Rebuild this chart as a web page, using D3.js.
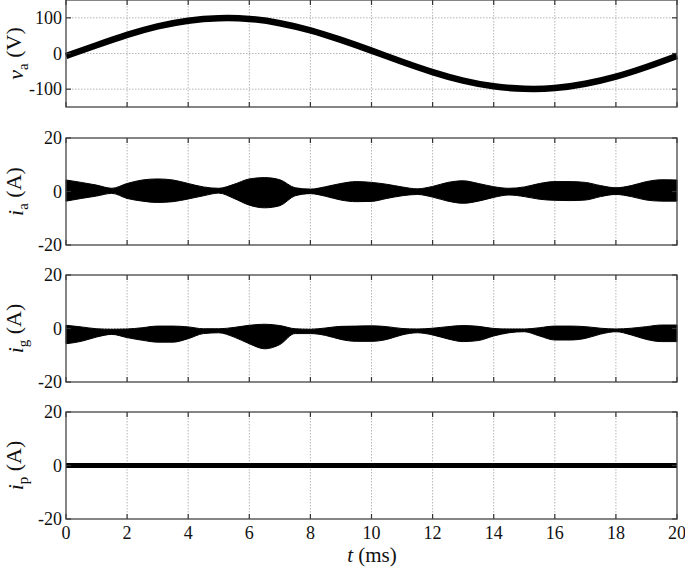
<!DOCTYPE html>
<html>
<head>
<meta charset="utf-8">
<script src="https://cdn.jsdelivr.net/npm/d3@7"></script>
<style>
  html, body { margin: 0; padding: 0; background: #fff; }
  svg { display: block; }
</style>
</head>
<body>
<svg id="chart" width="685" height="570" font-family="Liberation Serif"></svg>
<script>
// ---------- data ----------
const xTicks = [0, 2, 4, 6, 8, 10, 12, 14, 16, 18, 20];           // t (ms)
const vaTicks = [-100, 0, 100];
const iTicks = [-20, 0, 20];

// va (V), sampled every 1 ms
const tVa = [0,1,2,3,4,5,6,7,8,9,10,11,12,13,14,15,16,17,18,19,20];
const va  = [-7,23,52,76,92,99,97,85,65,38,8,-23,-52,-76,-92,-99,-97,-85,-65,-38,-7];

// envelope sample times (ms), every 0.5 ms
const tEnv = [0,0.5,1,1.5,2,2.5,3,3.5,4,4.5,5,5.5,6,6.5,7,7.5,8,8.5,9,9.5,10,
              10.5,11,11.5,12,12.5,13,13.5,14,14.5,15,15.5,16,16.5,17,17.5,18,18.5,19,19.5,20];

// ia (A) ripple envelope
const iaUpper = [4.3,3.4,2.4,1.2,3.0,4.3,4.7,4.3,3.0,1.7,1.2,2.7,4.7,5.2,4.4,1.4,0.9,1.8,3.0,3.7,3.4,
                 2.7,1.7,1.0,1.9,3.4,4.0,3.0,1.8,1.2,1.7,3.0,3.7,3.7,3.4,2.2,1.4,2.2,3.7,4.4,4.3];
const iaLower = [-3.6,-2.6,-1.7,-0.7,-2.6,-3.6,-4.1,-3.8,-2.8,-1.6,-0.6,-2.6,-5.1,-6.1,-5.3,-1.6,-0.8,-1.8,-3.2,-3.8,-3.7,
                 -2.6,-1.6,-1.1,-2.1,-3.6,-4.4,-3.6,-2.2,-1.3,-1.9,-2.9,-3.3,-3.4,-3.2,-1.9,-1.1,-1.9,-3.2,-3.6,-3.6];

// ig (A) ripple envelope
const igUpper = [1.2,0.6,-0.1,-0.3,-0.2,0.3,0.9,0.9,0.6,-0.1,-0.1,0.4,1.2,1.6,1.1,-0.1,-0.3,0.2,0.8,0.9,1.0,
                 0.7,0.0,-0.2,0.1,0.7,1.1,0.8,0.0,-0.2,-0.2,0.3,0.9,0.9,0.7,0.1,-0.2,0.1,0.7,1.3,1.3];
const igLower = [-5.7,-4.8,-3.2,-2.2,-3.4,-4.4,-5.1,-5.1,-3.8,-1.9,-1.6,-3.2,-5.7,-7.6,-6.0,-1.9,-1.9,-2.6,-4.1,-4.8,-4.8,
                 -4.1,-2.4,-1.6,-2.4,-3.9,-4.9,-4.5,-2.8,-1.6,-1.2,-2.8,-4.3,-4.3,-3.7,-2.1,-1.2,-2.4,-4.1,-4.9,-4.9];

// ip (A)
const tIp = [0, 5, 10, 15, 20];
const ip  = [0, 0, 0, 0, 0];

// ---------- layout ----------
const FONT = "Liberation Serif";
const svg = d3.select("#chart");
const left = 66, right = 677;
const panelH = 107;
const panelTops = [0, 138, 275, 412];

const x = d3.scaleLinear().domain([0, 20]).range([left, right]);

function panel(top, domain, yticks, label) {
  const y = d3.scaleLinear().domain(domain).range([top + panelH, top]);
  const g = svg.append("g");
  g.selectAll(".vg").data(xTicks.slice(1, -1)).join("line")
    .attr("x1", d => x(d)).attr("x2", d => x(d))
    .attr("y1", top).attr("y2", top + panelH)
    .attr("stroke", "#b5b5b5").attr("stroke-width", 1)
    .attr("stroke-dasharray", "1.5,1.5");
  g.selectAll(".hg").data(yticks.filter(d => d > domain[0] && d < domain[1])).join("line")
    .attr("x1", left).attr("x2", right)
    .attr("y1", d => y(d)).attr("y2", d => y(d))
    .attr("stroke", "#b5b5b5").attr("stroke-width", 1)
    .attr("stroke-dasharray", "1.5,1.5");
  return { g, y, top, domain, yticks, label };
}

function frame(p) {
  const { g, y, top, yticks } = p;
  const tickLen = 5;
  g.selectAll(".tb").data(xTicks).join("line")
    .attr("x1", d => x(d)).attr("x2", d => x(d))
    .attr("y1", top + panelH).attr("y2", top + panelH - tickLen)
    .attr("stroke", "#333").attr("stroke-width", 1.2);
  g.selectAll(".tt").data(xTicks).join("line")
    .attr("x1", d => x(d)).attr("x2", d => x(d))
    .attr("y1", top).attr("y2", top + tickLen)
    .attr("stroke", "#333").attr("stroke-width", 1.2);
  g.selectAll(".tl").data(yticks).join("line")
    .attr("x1", left).attr("x2", left + tickLen)
    .attr("y1", d => y(d)).attr("y2", d => y(d))
    .attr("stroke", "#333").attr("stroke-width", 1.2);
  g.selectAll(".tr").data(yticks).join("line")
    .attr("x1", right).attr("x2", right - tickLen)
    .attr("y1", d => y(d)).attr("y2", d => y(d))
    .attr("stroke", "#333").attr("stroke-width", 1.2);
  g.append("rect").attr("x", left).attr("y", top)
    .attr("width", right - left).attr("height", panelH)
    .attr("fill", "none").attr("stroke", "#444").attr("stroke-width", 1.3);
  g.selectAll(".yl").data(yticks).join("text")
    .attr("x", left - 4).attr("y", d => y(d)).attr("dy", "0.35em")
    .attr("text-anchor", "end").attr("font-size", 18)
    .attr("font-family", FONT).attr("fill", "#111")
    .text(d => d);
  const cy = top + panelH / 2;
  const t = g.append("text")
    .attr("transform", `translate(23,${cy}) rotate(-90)`)
    .attr("text-anchor", "middle").attr("font-size", 22)
    .attr("font-family", FONT).attr("fill", "#111");
  t.append("tspan").attr("font-style", "italic").text(p.label[0]);
  t.append("tspan").attr("font-size", 15).attr("dy", "0.3em").text(p.label[1]);
  t.append("tspan").attr("dy", "-0.3em").text(" (" + p.label[2] + ")");
}

// Panel 1: va
const p1 = panel(panelTops[0], [-150, 150], vaTicks, ["v", "a", "V"]);
p1.g.append("path")
  .datum(d3.zip(tVa, va))
  .attr("d", d3.line().x(d => x(d[0])).y(d => p1.y(d[1])).curve(d3.curveNatural))
  .attr("fill", "none").attr("stroke", "#000").attr("stroke-width", 6.5);
frame(p1);

// Panel 2: ia
const p2 = panel(panelTops[1], [-20, 20], iTicks, ["i", "a", "A"]);
p2.g.append("path")
  .datum(tEnv.map((t, i) => [t, iaUpper[i], iaLower[i]]))
  .attr("d", d3.area().x(d => x(d[0])).y0(d => p2.y(d[2])).y1(d => p2.y(d[1])).curve(d3.curveMonotoneX))
  .attr("fill", "#000").attr("stroke", "#000").attr("stroke-width", 1);
frame(p2);

// Panel 3: ig
const p3 = panel(panelTops[2], [-20, 20], iTicks, ["i", "g", "A"]);
p3.g.append("path")
  .datum(tEnv.map((t, i) => [t, igUpper[i], igLower[i]]))
  .attr("d", d3.area().x(d => x(d[0])).y0(d => p3.y(d[2])).y1(d => p3.y(d[1])).curve(d3.curveMonotoneX))
  .attr("fill", "#000").attr("stroke", "#000").attr("stroke-width", 1);
frame(p3);

// Panel 4: ip
const p4 = panel(panelTops[3], [-20, 20], iTicks, ["i", "p", "A"]);
p4.g.append("path")
  .datum(d3.zip(tIp, ip))
  .attr("d", d3.line().x(d => x(d[0])).y(d => p4.y(d[1])))
  .attr("fill", "none").attr("stroke", "#000").attr("stroke-width", 5);
frame(p4);

// x tick labels
svg.selectAll(".xl").data(xTicks).join("text")
  .attr("x", d => x(d)).attr("y", 539)
  .attr("text-anchor", "middle").attr("font-size", 18)
  .attr("font-family", FONT).attr("fill", "#111")
  .text(d => d);

// x axis title
const xt = svg.append("text").attr("x", 372).attr("y", 562)
  .attr("text-anchor", "middle").attr("font-size", 21)
  .attr("font-family", FONT).attr("fill", "#111");
xt.append("tspan").attr("font-style", "italic").text("t");
xt.append("tspan").text(" (ms)");
</script>
</body>
</html>
